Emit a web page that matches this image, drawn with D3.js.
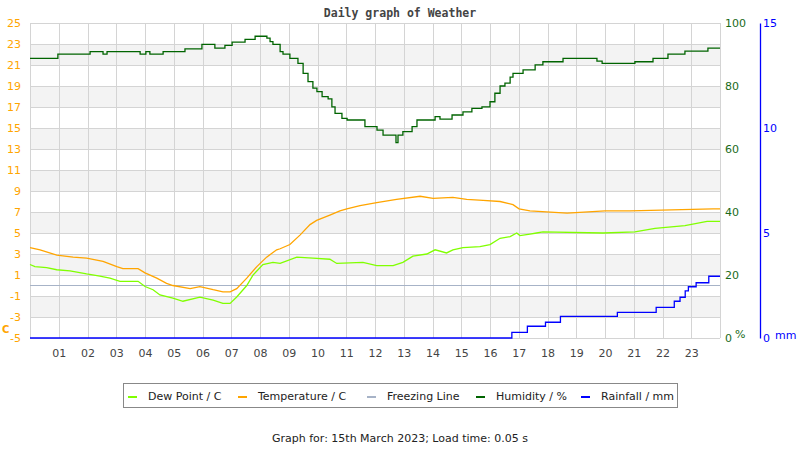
<!DOCTYPE html>
<html>
<head>
<meta charset="utf-8">
<script src="https://cdn.jsdelivr.net/npm/d3@7"></script>
<style>
  body { margin: 0; background: #fff; }
  svg { display: block; font-family: "DejaVu Sans", sans-serif; }
</style>
</head>
<body>
<svg id="chart" width="800" height="450"></svg>
<script>
// daily weather graph: temperature, dew point, humidity and rainfall

// hours of the day (0-24) and readings
var tempHours = [0, 0.35, 0.93, 1.5, 1.97, 2.54, 3.02, 3.23, 3.76, 4.0, 4.41, 4.75, 4.97, 5.57, 5.91, 6.37, 6.71, 6.96, 7.19, 7.54, 7.89, 8.23, 8.58, 8.7, 9.04, 9.39, 9.74, 9.97, 10.43, 10.78, 11.02, 11.48, 12.06, 12.75, 13.57, 14.02, 14.71, 15.19, 15.76, 16.35, 16.8, 17.01, 17.39, 18.68, 20.0, 20.87, 23.76, 24];
var tempValues = [3.6, 3.4, 2.9, 2.7, 2.6, 2.3, 1.8, 1.6, 1.6, 1.2, 0.7, 0.2, 0.0, -0.3, -0.1, -0.4, -0.6, -0.6, -0.3, 0.7, 1.8, 2.7, 3.4, 3.5, 3.9, 4.8, 5.8, 6.2, 6.7, 7.1, 7.3, 7.6, 7.9, 8.2, 8.5, 8.3, 8.4, 8.2, 8.1, 8.0, 7.7, 7.3, 7.1, 6.9, 7.1, 7.1, 7.3, 7.3];

var dewHours = [0, 0.17, 0.58, 0.93, 1.39, 1.97, 2.43, 2.78, 3.13, 3.76, 4.0, 4.28, 4.52, 4.97, 5.32, 5.91, 6.37, 6.71, 6.96, 7.19, 7.54, 7.76, 8.1, 8.45, 8.7, 9.28, 9.84, 10.43, 10.67, 11.58, 12.06, 12.63, 12.97, 13.32, 13.8, 14.09, 14.49, 14.71, 15.06, 15.65, 16.0, 16.35, 16.7, 16.93, 17.04, 17.39, 17.62, 17.84, 19.93, 21.04, 21.74, 22.78, 23.55, 24];
var dewValues = [2.0, 1.8, 1.7, 1.5, 1.4, 1.1, 0.9, 0.7, 0.4, 0.4, -0.1, -0.4, -0.9, -1.2, -1.5, -1.1, -1.4, -1.7, -1.7, -1.1, 0.0, 1.0, 2.0, 2.2, 2.1, 2.7, 2.6, 2.5, 2.1, 2.2, 1.9, 1.9, 2.2, 2.8, 3.0, 3.4, 3.1, 3.4, 3.6, 3.7, 3.9, 4.5, 4.65, 5.0, 4.75, 4.9, 5.0, 5.1, 5.0, 5.1, 5.45, 5.7, 6.1, 6.1];

var humHours = [0, 0.97, 2.09, 2.54, 2.68, 3.83, 4.03, 4.17, 4.63, 5.39, 5.98, 6.43, 6.78, 7.03, 7.48, 7.83, 8.24, 8.35, 8.45, 8.7, 8.8, 9.04, 9.32, 9.5, 9.67, 9.84, 9.98, 10.16, 10.37, 10.5, 10.61, 10.85, 11.03, 11.65, 12.07, 12.28, 12.73, 12.8, 12.97, 13.29, 13.46, 14.09, 14.26, 14.68, 15.06, 15.37, 15.72, 16.0, 16.17, 16.35, 16.52, 16.7, 16.8, 17.15, 17.57, 17.84, 18.54, 19.72, 19.9, 21.04, 21.67, 22.19, 22.78, 23.58, 24];
var humValues = [88.8, 90.1, 90.9, 90.1, 90.9, 90.1, 90.9, 90.1, 90.9, 91.8, 93.2, 92.0, 92.9, 93.9, 94.8, 95.8, 95.2, 94.1, 93.2, 90.9, 90.1, 88.8, 87.2, 84.0, 81.4, 79.3, 78.2, 76.6, 75.9, 73.4, 71.3, 69.7, 69.2, 67.1, 66.0, 64.4, 62.0, 64.4, 65.5, 67.1, 69.2, 70.3, 69.5, 70.8, 71.8, 72.9, 73.4, 75.0, 77.7, 80.0, 80.9, 82.8, 84.0, 85.1, 86.7, 87.7, 88.8, 87.9, 87.2, 87.7, 88.8, 90.1, 91.1, 92.0, 92.0];

var rainHours = [0, 16.76, 17.3, 17.93, 18.45, 20.43, 21.78, 22.41, 22.61, 22.79, 22.9, 23.17, 23.61, 24];
var rainValues = [0, 0.27, 0.56, 0.75, 1.03, 1.22, 1.46, 1.75, 1.94, 2.24, 2.44, 2.63, 2.94, 2.94];

var freezing = 0;

var hourTicks = d3.range(1, 24);
var tempTicks = d3.range(-5, 26, 2);
var humTicks = [0, 20, 40, 60, 80, 100];
var rainTicks = [0, 5, 10, 15];

var svg = d3.select("#chart"),
    margin = {top: 23, right: 80, bottom: 112, left: 30},
    width = 800 - margin.left - margin.right,
    height = 450 - margin.top - margin.bottom;

var x = d3.scaleLinear().domain([0, 24]).range([margin.left, margin.left + width]);
var yT = d3.scaleLinear().domain([-5, 25]).range([margin.top + height, margin.top]);
var yH = d3.scaleLinear().domain([0, 100]).range([margin.top + height, margin.top]);
var yR = d3.scaleLinear().domain([0, 15]).range([margin.top + height, margin.top]);

// title
svg.append("text")
    .attr("x", 400).attr("y", 17)
    .attr("text-anchor", "middle")
    .style("font-family", "'DejaVu Sans Mono', monospace")
    .style("font-weight", "bold")
    .style("font-size", "11.5px")
    .attr("fill", "#444")
    .text("Daily graph of Weather");

// alternating bands
var bands = tempTicks.slice(0, -1).map(function(v, i) { return [v, v + 2, i]; });
svg.append("g").selectAll("rect")
    .data(bands.filter(function(d) { return (tempTicks.length - 2 - d[2]) % 2 == 1; }))
    .enter().append("rect")
    .attr("x", x(0)).attr("width", x(24) - x(0))
    .attr("y", function(d) { return yT(d[1]); })
    .attr("height", function(d) { return yT(d[0]) - yT(d[1]); })
    .attr("fill", "#f3f3f3");

// grid
var grid = svg.append("g").attr("stroke", "#d4d4d4").attr("stroke-width", 1).style("shape-rendering", "crispEdges");
grid.selectAll(".h").data(tempTicks).enter().append("line")
    .attr("x1", x(0)).attr("x2", x(24))
    .attr("y1", function(d) { return yT(d) + 0.5; })
    .attr("y2", function(d) { return yT(d) + 0.5; });
grid.selectAll(".v").data(d3.range(0, 25)).enter().append("line")
    .attr("y1", yT(25)).attr("y2", yT(-5))
    .attr("x1", function(d) { return x(d) + 0.5; })
    .attr("x2", function(d) { return x(d) + 0.5; });

// freezing line
svg.append("line")
    .attr("x1", x(0)).attr("x2", x(24))
    .attr("y1", yT(freezing)).attr("y2", yT(freezing))
    .attr("stroke", "#a7b3c7").attr("stroke-width", 1.2);

function series(hours, values, yScale, colour, curve) {
    var pts = hours.map(function(h, i) { return [h, values[i]]; });
    var line = d3.line()
        .x(function(d) { return x(d[0]); })
        .y(function(d) { return yScale(d[1]); })
        .curve(curve);
    svg.append("path").datum(pts)
        .attr("d", line)
        .attr("fill", "none")
        .attr("stroke", colour)
        .attr("stroke-width", 1.3);
}

series(dewHours, dewValues, yT, "#80ff00", d3.curveLinear);
series(tempHours, tempValues, yT, "#ffa500", d3.curveLinear);
series(humHours, humValues, yH, "#006400", d3.curveStepAfter);
series(rainHours, rainValues, yR, "#0000ff", d3.curveStepAfter);

// axes
var gl = svg.append("g").attr("transform", "translate(" + x(0) + ",0)")
    .call(d3.axisLeft(yT).tickValues(tempTicks).tickSize(0).tickPadding(9).tickFormat(String));
gl.select(".domain").remove();
gl.selectAll("text").attr("fill", "#ffa500").style("font-size", "11px").style("font-family", "'DejaVu Sans', sans-serif");

var gb = svg.append("g").attr("transform", "translate(0," + yT(-5) + ")")
    .call(d3.axisBottom(x).tickValues(hourTicks).tickSize(0).tickPadding(11)
        .tickFormat(function(d) { return d3.format("02d")(d); }));
gb.select(".domain").remove();
gb.selectAll("text").attr("fill", "#444").style("font-size", "11px").style("font-family", "'DejaVu Sans', sans-serif");

var gh = svg.append("g").attr("transform", "translate(" + x(24) + ",0)")
    .call(d3.axisRight(yH).tickValues(humTicks).tickSize(0).tickPadding(5));
gh.select(".domain").remove();
gh.selectAll("text").attr("fill", "#1a6b1a").style("font-size", "11px").style("font-family", "'DejaVu Sans', sans-serif");

var gr = svg.append("g").attr("transform", "translate(760,0)")
    .call(d3.axisRight(yR).tickValues(rainTicks).tickSize(0).tickSizeOuter(0).tickPadding(3));
gr.select(".domain").attr("stroke", "#0000ff").attr("stroke-width", 1.3);
gr.selectAll("text").attr("fill", "#0000ff").style("font-size", "11px").style("font-family", "'DejaVu Sans', sans-serif");

// units
svg.append("text").attr("x", 2).attr("y", 333).text("C")
    .attr("fill", "#ffa500").style("font-weight", "bold").style("font-size", "10px");
svg.append("text").attr("x", 735).attr("y", 338).text("%")
    .attr("fill", "#1a6b1a").style("font-size", "11px");
svg.append("text").attr("x", 775).attr("y", 339).text("mm")
    .attr("fill", "#0000ff").style("font-size", "11px");

// legend
var legendItems = ["Dew Point / C", "Temperature / C", "Freezing Line", "Humidity / %", "Rainfall / mm"];
var legendColours = ["#80ff00", "#ffa500", "#a7b3c7", "#006400", "#0000ff"];
var legendX = [128, 238, 367, 476, 581];

svg.append("rect").attr("x", 123.5).attr("y", 383.5).attr("width", 554).attr("height", 24)
    .attr("fill", "#fff").attr("stroke", "#888");
var lg = svg.append("g").selectAll("g").data(legendItems).enter().append("g")
    .attr("transform", function(d, i) { return "translate(" + legendX[i] + ",0)"; });
lg.append("rect").attr("x", 0).attr("y", 396).attr("width", 9).attr("height", 2)
    .attr("fill", function(d, i) { return legendColours[i]; });
lg.append("text").attr("x", 20).attr("y", 400).text(function(d) { return d; })
    .attr("fill", "#222").style("font-size", "11px");

// footer
svg.append("text").attr("x", 400).attr("y", 442).attr("text-anchor", "middle")
    .attr("fill", "#222").style("font-size", "11px")
    .text("Graph for: 15th March 2023; Load time: 0.05 s");
</script>
</body>
</html>
